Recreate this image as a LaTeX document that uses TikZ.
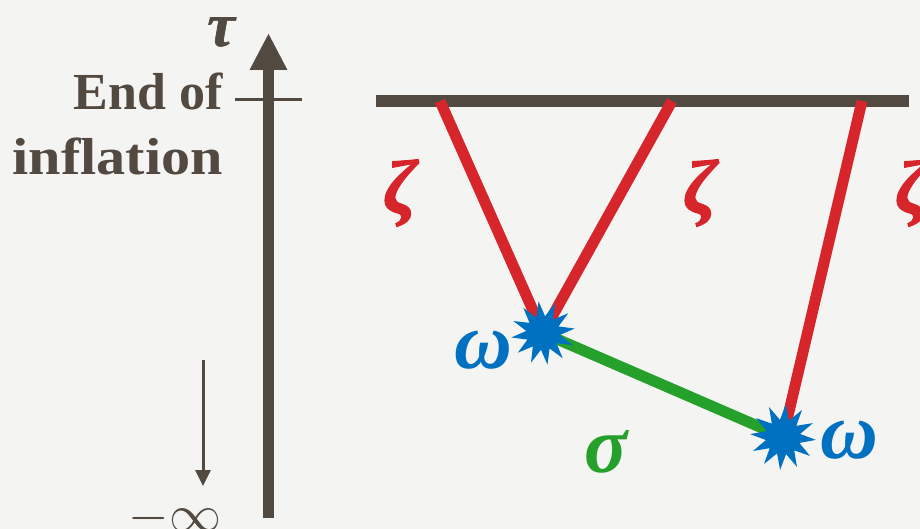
\documentclass[tikz,border=0pt]{standalone}
\usepackage{fontspec}
\setmainfont{Liberation Serif}
\usetikzlibrary{shapes.geometric,arrows.meta}
\definecolor{dk}{HTML}{524A41}
\definecolor{rd}{HTML}{D7262B}
\definecolor{gn}{HTML}{25A02B}
\definecolor{bl}{HTML}{0070C0}
\definecolor{bg}{HTML}{F4F4F3}
\tikzset{
  burst/.style={star, star points=12, star point ratio=1.9, minimum size=64pt, inner sep=0pt, fill=bl, draw=none},
  greek/.style={font=\fontsize{80}{80}\selectfont\bfseries\itshape, inner sep=0pt},
  zeta/.style={greek, text=rd, font=\fontsize{76}{76}\selectfont\bfseries\itshape\addfontfeature{FakeBold=1.5}},
  prop/.style={line width=11pt},
}
\begin{document}
\begin{tikzpicture}[x=1pt,y=-1pt]
\fill[bg] (0,0) rectangle (920,529);
\useasboundingbox (0,0) rectangle (920,529);
% time axis
\coordinate (axb) at (268.5,518);
\coordinate (axt) at (268.5,33);
\draw[dk, line width=11pt, -{Triangle[length=37pt,width=35pt]}] (axb) -- (axt);
\coordinate (tl) at (235,100);
\coordinate (tr) at (302,100);
\draw[dk, line width=3pt] (tl) -- (tr);
\node[text=dk, font=\fontsize{62}{62}\selectfont\bfseries\itshape\addfontfeature{FakeBold=1}, inner sep=0pt] (tau) at (221,32) {τ};
\node[text=dk, font=\fontsize{52}{62}\selectfont\bfseries, anchor=base east, inner sep=0pt] (end) at (223,110) {End of};
\node[text=dk, font=\fontsize{52}{62}\selectfont\bfseries, anchor=base east, inner sep=0pt] (infl) at (223,175) {\addfontfeature{FakeStretch=1.12}inflation};
% -infinity
\coordinate (sa) at (203,360);
\coordinate (sb) at (203,486);
\draw[dk, line width=3pt, -{Triangle[length=16pt,width=15pt]}] (sa) -- (sb);
\node[text=dk, inner sep=0pt] (minf) at (175,518) {\scalebox{5.2}{$-\infty$}};
% top line
\coordinate (hl) at (376,101);
\coordinate (hr) at (909,101);
\draw[dk, line width=12pt] (hl) -- (hr);
% vertices
\coordinate (v1) at (543,333);
\coordinate (v2) at (783,437);
\coordinate (p1) at (440,101);
\coordinate (p2) at (672,101);
\coordinate (p3) at (862,101);
\draw[rd, prop] (p1) -- (v1);
\draw[rd, prop] (p2) -- (v1);
\draw[rd, prop] (p3) -- (v2);
\draw[gn, prop] (v1) -- (v2);
\node[burst, rotate=8] (s1) at (v1) {};
\node[burst, rotate=-5, minimum size=66pt] (s2) at (v2) {};
% labels
\node[zeta] (z1) at (400,193) {ζ};
\node[zeta] (z2) at (700,193) {ζ};
\node[zeta] (z3) at (912,193) {ζ};
\node[greek, text=bl] (w1) at (483,350) {ω};
\node[greek, text=bl] (w2) at (849,440) {ω};
\node[greek, text=gn] (sg) at (606,452) {σ};
\end{tikzpicture}
\end{document}
